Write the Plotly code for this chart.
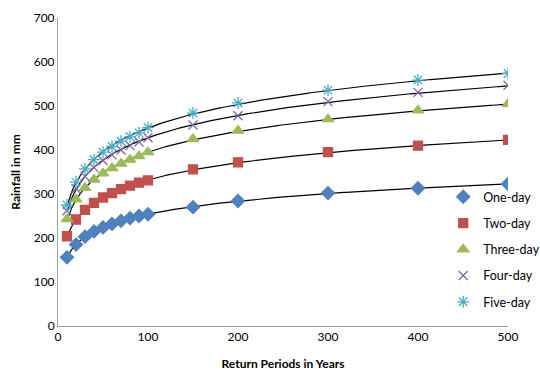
import numpy as np
import plotly.graph_objects as go

return_periods = [10, 20, 30, 40, 50, 60, 70, 80, 90, 100, 150, 200, 300, 400, 500]
one_day = [156, 185, 203, 215, 224, 232, 239, 245, 250, 254, 270, 284, 302, 313, 323]
two_day = [204, 242, 264, 280, 292, 302, 311, 319, 326, 331, 356, 372, 395, 410, 423]
three_day = [243, 288, 314, 333, 347, 359, 369, 378, 386, 395, 425, 444, 470, 490, 505]
four_day = [262, 312, 340, 360, 376, 389, 400, 410, 418, 428, 457, 478, 510, 531, 547]
five_day = [275, 327, 357, 378, 395, 408, 420, 430, 439, 451, 484, 507, 536, 559, 574]

series = [
    ("One-day", one_day, "#4F81BD", "diamond", 10),
    ("Two-day", two_day, "#C0504D", "square", 9),
    ("Three-day", three_day, "#9BBB59", "triangle-up", 10),
    ("Four-day", four_day, "#8064A2", "x-thin-open", 9),
    ("Five-day", five_day, "#4BACC6", "asterisk-open", 10),
]

fig = go.Figure()
x = np.array(return_periods, dtype=float)
xs = np.linspace(min(return_periods), max(return_periods), 200)
for i, (name, vals, color, sym, size) in enumerate(series):
    a, b = np.polyfit(np.log(x), np.array(vals, dtype=float), 1)
    fig.add_trace(go.Scatter(x=xs, y=a * np.log(xs) + b, mode="lines",
                             line=dict(color="black", width=1.2),
                             showlegend=False, hoverinfo="skip"))
for i, (name, vals, color, sym, size) in enumerate(series):
    fig.add_trace(go.Scatter(x=return_periods, y=vals, mode="markers", name=name,
                             legendgroup=name,
                             marker=dict(symbol=sym, size=size, color=color,
                                         line=dict(color=color, width=1.3))))

fig.update_layout(
    width=540, height=376,
    margin=dict(l=58, r=32, t=18, b=50, autoexpand=False),
    paper_bgcolor="white", plot_bgcolor="white",
    font=dict(family="Lato, Open Sans, sans-serif", size=12, color="black"),
    legend=dict(x=0.856, y=0.467, xanchor="left", yanchor="top",
                bgcolor="rgba(0,0,0,0)", font=dict(size=12.5),
                tracegroupgap=7, itemwidth=30),
    xaxis=dict(range=[0, 500], tickvals=[0, 100, 200, 300, 400, 500],
               showgrid=False, zeroline=False, showline=True,
               linecolor="#A0A0A0", linewidth=1, ticks="",
               tickfont=dict(size=12),
               title=dict(text="<b>Return Periods in Years</b>", font=dict(size=12),
                          standoff=16)),
    yaxis=dict(range=[0, 700], tickvals=[0, 100, 200, 300, 400, 500, 600, 700],
               showgrid=False, zeroline=False, showline=True,
               linecolor="#A0A0A0", linewidth=1, ticks="",
               tickfont=dict(size=12),
               title=dict(text="<b>Rainfall in mm</b>", font=dict(size=12),
                          standoff=10)),
)

fig.write_html("out.html")
